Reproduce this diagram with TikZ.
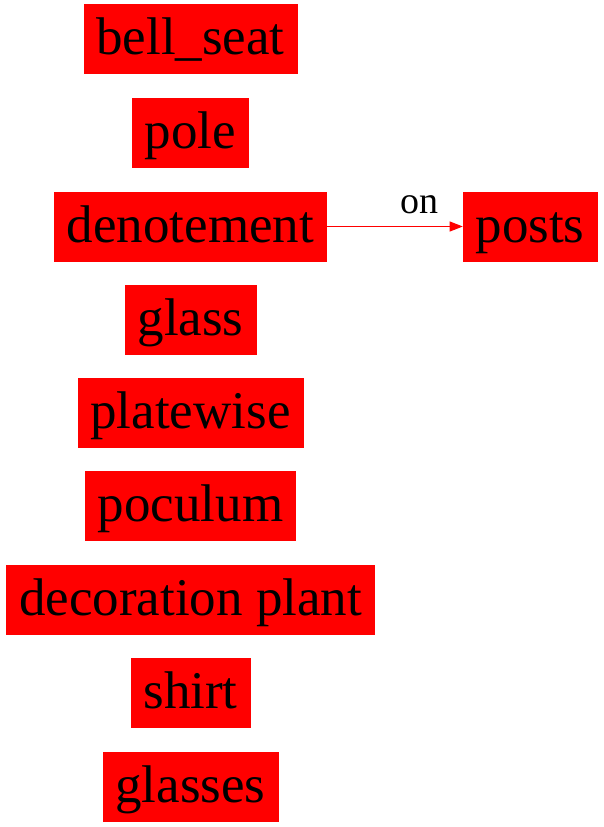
\documentclass[tikz,border=0pt]{standalone}
\usepackage{fontspec}
\setmainfont{Liberation Serif}
\usetikzlibrary{arrows.meta}
\tikzset{
  box/.style={fill=red, draw=red, line width=0.6pt, inner xsep=12.5pt, inner ysep=0pt,
    minimum height=69pt, text height=36pt, text depth=5pt,
    font=\fontsize{53}{60}\selectfont, text=black, anchor=center},
  lbl/.style={font=\fontsize{38}{42}\selectfont, text=black, anchor=base, inner sep=0pt},
  conn/.style={draw=red, line width=1.1pt, -{Triangle[length=13pt,width=10pt]}}
}
\begin{document}
\begin{tikzpicture}[x=1pt,y=-1pt]
\useasboundingbox (0,0) rectangle (603,827);
\node[box] (bell) at (190.5,39) {bell\_seat};
\node[box] (pole) at (190.5,132.5) {pole};
\node[box] (den) at (190.5,226.5) {denotement};
\node[box] (posts) at (530,226.5) {posts};
\node[box] (glass) at (190.5,319.5) {glass};
\node[box] (plate) at (190.5,412.5) {platewise};
\node[box] (poc) at (190.5,505.5) {poculum};
\node[box] (deco) at (190.5,599.5) {decoration plant};
\node[box] (shirt) at (190.5,692.5) {shirt};
\node[box] (glasses) at (190.5,786.5) {glasses};
\draw[conn] (den) -- node[lbl, pos=0.68, yshift=13pt] {on} (posts);
\end{tikzpicture}
\end{document}
